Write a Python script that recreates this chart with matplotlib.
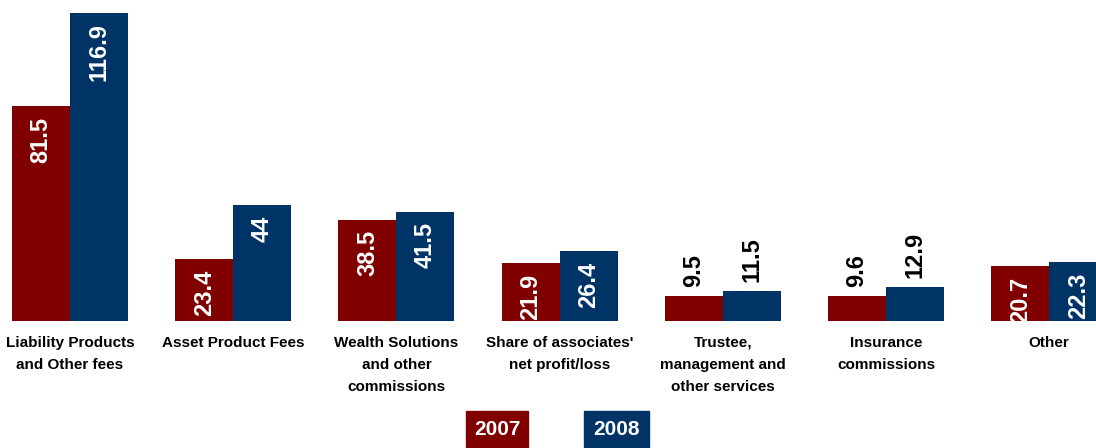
import numpy as np
import matplotlib.pyplot as plt
from matplotlib.patches import Rectangle

plt.rcParams['font.family'] = ['Liberation Sans', 'DejaVu Sans']
plt.rcParams['font.weight'] = 'bold'

categories = [
    "Liability Products\nand Other fees",
    "Asset Product Fees",
    "Wealth Solutions\nand other\ncommissions",
    "Share of associates'\nnet profit/loss",
    "Trustee,\nmanagement and\nother services",
    "Insurance\ncommissions",
    "Other",
]
values_2007 = [81.5, 23.4, 38.5, 21.9, 9.5, 9.6, 20.7]
values_2008 = [116.9, 44, 41.5, 26.4, 11.5, 12.9, 22.3]
series_labels = ["2007", "2008"]

RED = "#800000"
BLUE = "#003366"


def fmt(v):
    return f"{v:g}"


def label_bars(ax, xs, vals, inside_pad=4, outside_pad=3.4, threshold=15):
    for x, v in zip(xs, vals):
        if v >= threshold:
            ax.text(x, v - inside_pad, fmt(v), rotation=90, ha='center', va='top',
                    color='white', fontsize=17, fontweight='bold')
        else:
            ax.text(x, v + outside_pad, fmt(v), rotation=90, ha='center', va='bottom',
                    color='black', fontsize=17, fontweight='bold')


fig = plt.figure(figsize=(10.96, 4.48), dpi=100)
ax = fig.add_axes([0, 0.2835, 1, 0.7165])

x = np.arange(len(categories))
w = 0.355
ax.bar(x - w / 2, values_2007, w, color=RED)
ax.bar(x + w / 2, values_2008, w, color=BLUE)
label_bars(ax, x - w / 2, values_2007)
label_bars(ax, x + w / 2, values_2008)

ax.set_xlim(-0.429, 6.287)
ax.set_ylim(0, 121.8)
ax.axis('off')

# category names under the groups
for xi, name in zip(x, categories):
    ax.annotate(name, xy=(xi, 0), xycoords='data', xytext=(0, -15),
                textcoords='offset pixels', ha='center', va='top',
                fontsize=11, fontweight='bold', linespacing=1.75)

# legend boxes along the bottom
W, H = 1096, 448
for (x0, x1), lab, col in zip([(466, 528), (584, 649)], series_labels, [RED, BLUE]):
    y0, y1 = 411, 447
    fig.patches.append(Rectangle((x0 / W, 1 - y1 / H), (x1 - x0) / W, (y1 - y0) / H,
                                 transform=fig.transFigure, color=col))
    fig.text((x0 + x1) / 2 / W, 1 - (y0 + y1) / 2 / H, lab, ha='center', va='center',
             color='white', fontsize=15, fontweight='bold')

fig.savefig("out.png", dpi=100)
